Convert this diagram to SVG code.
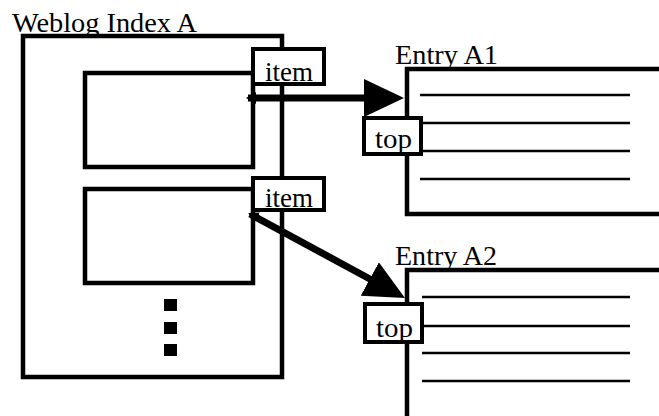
<svg xmlns="http://www.w3.org/2000/svg" width="659" height="416" viewBox="0 0 659 416">
<style>
.box{fill:#fff;stroke:#000;stroke-width:4.5}
.tag{fill:#fff;stroke:#000;stroke-width:4}
.rule{stroke:#000;stroke-width:2.5}
.lbl{font-family:"Liberation Serif","Times New Roman",serif;font-size:27px;fill:#000}
.conn{stroke:#000;stroke-width:7;fill:none}
</style>
<defs>
<marker id="head" markerUnits="userSpaceOnUse" viewBox="0 0 40 38" markerWidth="40" markerHeight="38" refX="20" refY="19" orient="auto">
<path d="M0,0 L40,19 L0,38 Z" fill="#000"/>
</marker>
<marker id="tail" markerUnits="userSpaceOnUse" viewBox="0 0 10 12" markerWidth="10" markerHeight="12" refX="2" refY="6" orient="auto">
<path d="M10,0 L0,6 L10,12 Z" fill="#000"/>
</marker>
</defs>
<g id="weblog-index-a">
<rect class="box" x="23" y="36" width="259" height="341"/>
<text class="lbl" x="12" y="32" textLength="185" lengthAdjust="spacingAndGlyphs">Weblog Index A</text>
</g>
<g id="slot-1"><rect class="box" x="85" y="73" width="168" height="94"/></g>
<g id="slot-2"><rect class="box" x="85" y="189" width="168" height="94"/></g>
<g id="more">
<rect x="164" y="299" width="13" height="12" fill="#000"/>
<rect x="164" y="322" width="13" height="12" fill="#000"/>
<rect x="164" y="344" width="13" height="12" fill="#000"/>
</g>
<g id="item-1">
<rect class="tag" x="253" y="49" width="71" height="35"/>
<text class="lbl" x="265" y="81" textLength="48" lengthAdjust="spacingAndGlyphs">item</text>
</g>
<g id="item-2">
<rect class="tag" x="253" y="178" width="71" height="32"/>
<text class="lbl" x="265" y="207" textLength="48" lengthAdjust="spacingAndGlyphs">item</text>
</g>
<g id="entry-a1">
<rect class="box" x="407" y="69" width="270" height="145"/>
<text class="lbl" x="395" y="64" textLength="103" lengthAdjust="spacingAndGlyphs">Entry A1</text>
<line class="rule" x1="420" y1="95" x2="630" y2="95"/>
<line class="rule" x1="420" y1="123" x2="630" y2="123"/>
<line class="rule" x1="420" y1="151" x2="630" y2="151"/>
<line class="rule" x1="420" y1="179" x2="630" y2="179"/>
</g>
<g id="top-a1">
<rect class="tag" x="364" y="118" width="57" height="36"/>
<text class="lbl" x="375" y="148" textLength="37" lengthAdjust="spacingAndGlyphs">top</text>
</g>
<g id="entry-a2">
<rect class="box" x="407" y="270" width="270" height="160"/>
<text class="lbl" x="395" y="265" textLength="102" lengthAdjust="spacingAndGlyphs">Entry A2</text>
<line class="rule" x1="422" y1="297" x2="630" y2="297"/>
<line class="rule" x1="422" y1="326" x2="630" y2="326"/>
<line class="rule" x1="422" y1="353" x2="630" y2="353"/>
<line class="rule" x1="422" y1="381" x2="630" y2="381"/>
</g>
<g id="top-a2">
<rect class="tag" x="365" y="304" width="57" height="38"/>
<text class="lbl" x="376" y="337" textLength="37" lengthAdjust="spacingAndGlyphs">top</text>
</g>
<g id="connectors">
<line class="conn" x1="248" y1="98" x2="384" y2="98" marker-start="url(#tail)" marker-end="url(#head)"/>
<line class="conn" x1="250" y1="214" x2="387.4" y2="288.5" marker-start="url(#tail)" marker-end="url(#head)"/>
</g>
</svg>
